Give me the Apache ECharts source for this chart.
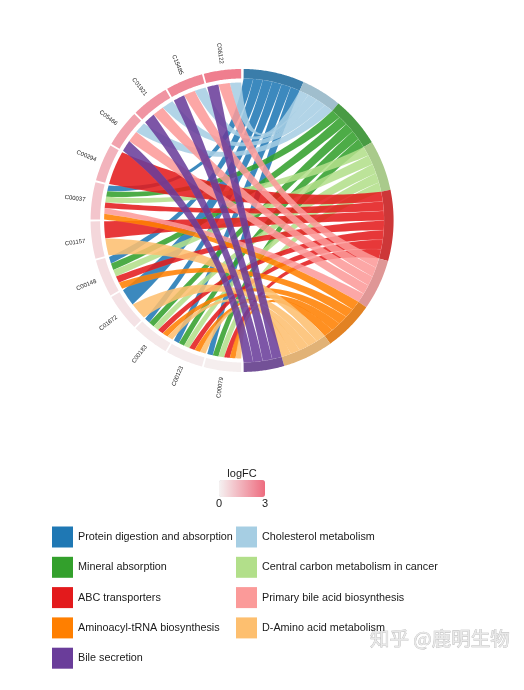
<!DOCTYPE html>
<html>
<head>
<meta charset="utf-8">
<script src="https://cdn.jsdelivr.net/npm/echarts@6/dist/echarts.min.js"></script>
<style>html,body{margin:0;padding:0;background:#fff}#c{width:524px;height:690px}</style>
</head>
<body>
<div id="c"></div>
<script>
// ---------------- data ----------------
const compounds = ['C00079','C00123','C00183','C01672','C00148','C01157','C00037','C00294','C05466','C01921','C15485','C06122'];
const logFC = [0.1, 0.15, 0.2, 0.35, 0.45, 0.6, 1.0, 1.4, 1.8, 2.1, 2.4, 2.6];
const pathways = ['Protein digestion and absorption','Cholesterol metabolism','Mineral absorption','Central carbon metabolism in cancer','ABC transporters','Primary bile acid biosynthesis','Aminoacyl-tRNA biosynthesis','D-Amino acid metabolism','Bile secretion'];
const pathwayColors = ['#1F78B4','#A6CEE3','#33A02C','#B2DF8A','#E31A1C','#FB9A99','#FF7F00','#FDBF6F','#6A3D9A'];
// membership[compound][pathway]
const membership = [
  [1,0,1,1,1,0,1,1,0], // C00079
  [1,0,1,1,1,0,1,1,0], // C00123
  [1,0,1,1,1,0,1,1,0], // C00183
  [1,0,0,0,0,0,0,1,0], // C01672
  [1,0,1,1,1,0,1,0,0], // C00148
  [0,0,0,0,1,0,0,1,0], // C01157
  [1,0,1,1,1,1,1,0,0], // C00037
  [0,0,0,0,1,0,0,0,0], // C00294
  [0,1,0,0,0,1,0,0,1], // C05466
  [0,1,0,0,0,1,0,0,1], // C01921
  [0,1,0,0,0,1,0,0,1], // C15485
  [0,1,0,0,0,1,0,0,1]  // C06122
];
const legendLeft = [0,2,4,6,8];
const legendRight = [1,3,5,7];
const logFCRange = [0, 3];
const logFCTitle = 'logFC';
const watermark = '知乎 @鹿明生物';

// ---------------- layout ----------------
const R_OUT = 151.5, R_IN = 142, R_CMP_LINK = 138, R_PW_LINK = 142, R_LABEL = 158;
const HALF_GAP = 0.6, CMP_PAD = 0.35, CTRL = 0.3;
const CMP_SPAN = 180 / compounds.length;
let nLinks = 0;
membership.forEach(r => r.forEach(v => nLinks += v));
const U = (180 - 2 * HALF_GAP) / nLinks;
const pwStart = [], pwEnd = [];
let acc = HALF_GAP;
pathways.forEach((p, j) => {
  let cnt = 0; compounds.forEach((c, i) => cnt += membership[i][j]);
  pwStart[j] = acc; acc += cnt * U; pwEnd[j] = acc;
});
const geom = compounds.map(() => pathways.map(() => null));
compounds.forEach((c, i) => {
  const js = pathways.map((_, j) => j).filter(j => membership[i][j]).sort((a, b) => b - a);
  const s = 180 + CMP_SPAN * i + CMP_PAD, e = 180 + CMP_SPAN * (i + 1) - CMP_PAD;
  const w = (e - s) / js.length;
  js.forEach((j, k) => { geom[i][j] = { a1: s + k * w, a2: s + (k + 1) * w }; });
});
pathways.forEach((p, j) => {
  const is = compounds.map((_, i) => i).filter(i => membership[i][j]).sort((a, b) => b - a);
  is.forEach((i, k) => { geom[i][j].b1 = pwStart[j] + k * U; geom[i][j].b2 = pwStart[j] + (k + 1) * U; });
});

function mix(c1, c2, t) {
  const a = parseInt(c1.slice(1), 16), b = parseInt(c2.slice(1), 16);
  const ch = s => Math.round(((a >> s) & 255) * (1 - t) + ((b >> s) & 255) * t);
  return 'rgb(' + ch(16) + ',' + ch(8) + ',' + ch(0) + ')';
}
function arc(api, r, a1, a2, n) {
  const pts = [];
  for (let k = 0; k <= n; k++) pts.push(api.coord([r, a1 + (a2 - a1) * k / n]));
  return pts;
}
function bez(p0, c, p2, n) {
  const m = [(p0[0] + p2[0]) / 2, (p0[1] + p2[1]) / 2];
  const q = [c[0] + CTRL * (m[0] - c[0]), c[1] + CTRL * (m[1] - c[1])];
  const pts = [];
  for (let k = 1; k < n; k++) {
    const t = k / n, u = 1 - t;
    pts.push([u * u * p0[0] + 2 * u * t * q[0] + t * t * p2[0], u * u * p0[1] + 2 * u * t * q[1] + t * t * p2[1]]);
  }
  return pts;
}
function ring(api, r0, r1, a1, a2) {
  const n = Math.max(4, Math.ceil(Math.abs(a2 - a1) * 2));
  return arc(api, r1, a1, a2, n).concat(arc(api, r0, a1, a2, n).reverse());
}

// ---------------- series ----------------
const series = [];
series.push({
  type: 'custom', name: logFCTitle, coordinateSystem: 'polar',
  encode: { radius: 0, angle: 1 },
  data: compounds.map((c, i) => [R_OUT, 180 + CMP_SPAN * (i + 0.5), logFC[i], i]),
  renderItem: function (params, api) {
    const i = api.value(3);
    const a1 = 180 + CMP_SPAN * i + CMP_PAD, a2 = 180 + CMP_SPAN * (i + 1) - CMP_PAD;
    const mid = (a1 + a2) / 2;
    const p = api.coord([R_LABEL, mid]);
    const c = api.coord([0, 0]);
    const rot = Math.atan2(-(c[1] - p[1]), c[0] - p[0]);
    return {
      type: 'group',
      children: [
        { type: 'polygon', shape: { points: ring(api, R_IN, R_OUT, a1, a2) }, style: { fill: api.visual('color') } },
        { type: 'text', x: p[0], y: p[1], rotation: rot,
          style: { text: compounds[i], align: 'right', verticalAlign: 'middle', fontSize: 6, fontFamily: 'Liberation Sans', fill: '#222' } }
      ]
    };
  },
  silent: true, animation: false
});
pathways.forEach((p, j) => {
  const data = [[R_OUT, (pwStart[j] + pwEnd[j]) / 2, 0, -1, j]];
  compounds.forEach((c, i) => { if (membership[i][j]) data.push([R_PW_LINK, (geom[i][j].b1 + geom[i][j].b2) / 2, 1, i, j]); });
  series.push({
    type: 'custom', name: p, coordinateSystem: 'polar',
    encode: { radius: 0, angle: 1 },
    itemStyle: { color: pathwayColors[j] },
    data: data,
    renderItem: function (params, api) {
      const kind = api.value(2), jj = api.value(4);
      if (kind === 0) {
        return { type: 'polygon', shape: { points: ring(api, R_IN, R_OUT, pwStart[jj], pwEnd[jj]) },
          style: { fill: mix(pathwayColors[jj], '#8c8c8c', 0.25) } };
      }
      const i = api.value(3), g = geom[i][jj];
      const c = api.coord([0, 0]);
      const s = arc(api, R_CMP_LINK, g.a1, g.a2, 12);
      const t = arc(api, R_PW_LINK, g.b1, g.b2, 12);
      const pts = s.concat(bez(s[s.length - 1], c, t[0], 50), t, bez(t[t.length - 1], c, s[0], 50));
      return { type: 'polygon', shape: { points: pts },
        style: { fill: pathwayColors[jj], opacity: 0.87, stroke: 'rgba(255,255,255,0.2)', lineWidth: 0.3 } };
    },
    silent: true, animation: false
  });
});

const legendText = { fontSize: 10.8, color: '#1a1a1a', fontFamily: 'Liberation Sans' };
const txt = (t, x, y, size) => ({ type: 'text', x: x, y: y,
  style: { text: t, align: 'center', verticalAlign: 'middle', fontSize: size, fontFamily: 'Liberation Sans', fill: '#1a1a1a' } });
const option = {
  animation: false,
  backgroundColor: '#ffffff',
  color: pathwayColors,
  polar: { center: ['46.2%', '31.95%'], radius: R_OUT },
  angleAxis: { type: 'value', min: 0, max: 360, startAngle: 90, clockwise: true, show: false },
  radiusAxis: { type: 'value', min: 0, max: R_OUT, show: false },
  visualMap: {
    type: 'continuous', min: logFCRange[0], max: logFCRange[1], dimension: 2, seriesIndex: 0,
    orient: 'horizontal', left: 219, top: 480, itemWidth: 17, itemHeight: 46, padding: 0,
    calculable: false, hoverLink: false, text: null,
    inRange: { color: ['#f5f2f2', '#ee6c7f'] }
  },
  legend: [
    { orient: 'vertical', left: 52, top: 526.5, padding: 0, itemWidth: 21, itemHeight: 21, itemGap: 9.3, icon: 'rect',
      selectedMode: false, data: legendLeft.map(j => pathways[j]), textStyle: legendText },
    { orient: 'vertical', left: 236, top: 526.5, padding: 0, itemWidth: 21, itemHeight: 21, itemGap: 9.3, icon: 'rect',
      selectedMode: false, data: legendRight.map(j => pathways[j]), textStyle: legendText }
  ],
  graphic: [
    txt(logFCTitle, 242, 474, 11),
    txt(String(logFCRange[0]), 219, 504, 11),
    txt(String(logFCRange[1]), 265, 504, 11),
    { type: 'text', x: 370, y: 639, style: { text: watermark, align: 'left', verticalAlign: 'middle', fontSize: 19.5, fontFamily: 'Noto Sans CJK SC', fill: '#e8e8e8', stroke: '#b8b8b8', lineWidth: 0.7 } }
  ],
  series: series
};
const chart = echarts.init(document.getElementById('c'));
chart.setOption(option);
</script>
</body>
</html>
